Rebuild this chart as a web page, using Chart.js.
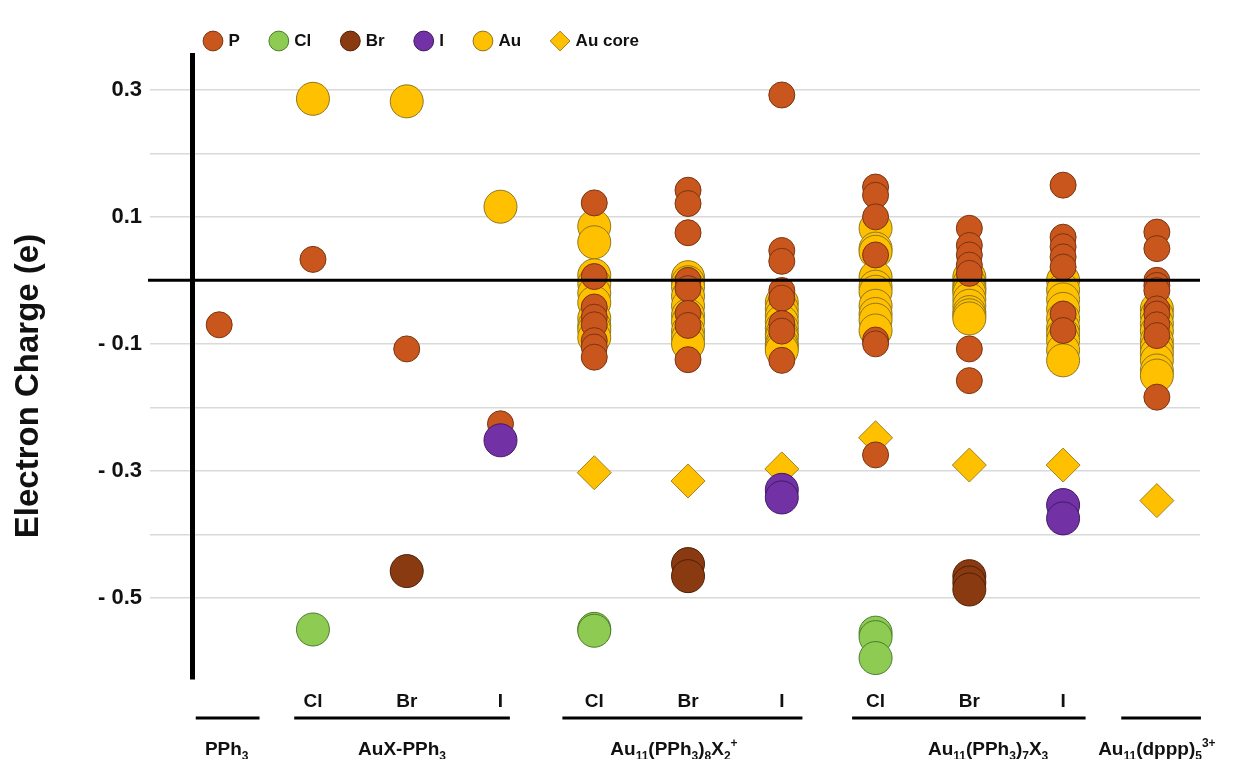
<!DOCTYPE html>
<html>
<head>
<meta charset="utf-8">
<title>Electron charge by element</title>
<script src="https://cdn.jsdelivr.net/npm/chart.js@4.4.1/dist/chart.umd.min.js"></script>
<style>
  html, body { margin: 0; padding: 0; background: #ffffff; }
  #wrap { width: 1249px; height: 759px; position: relative; }
</style>
</head>
<body>
<div id="wrap"><canvas id="chart"></canvas></div>
<script>
// x slots: 0 = PPh3, 1-3 = AuX-PPh3, 4-6 = Au11(PPh3)8X2+, 7-9 = Au11(PPh3)7X3, 10 = Au11(dppp)5 3+
const xTickLabels = ['', 'Cl', 'Br', 'I', 'Cl', 'Br', 'I', 'Cl', 'Br', 'I', ''];
const yTickValues = [0.3, 0.2, 0.1, 0, -0.1, -0.2, -0.3, -0.4, -0.5];
const yTickLabels = ['0.3', '', '0.1', '', '- 0.1', '', '- 0.3', '', '- 0.5'];
const groupNames = ['PPh_{3}', 'AuX-PPh_{3}', 'Au_{11}(PPh_{3})_{8}X_{2}^{+}', 'Au_{11}(PPh_{3})_{7}X_{3}', 'Au_{11}(dppp)_{5}^{3+}'];
const seriesNames = ['P', 'Cl', 'Br', 'I', 'Au', 'Au core'];
const yTitle = 'Electron Charge (e)';

// atomic charges (e), one list per x slot
const pCharges = [
  [-0.070],
  [0.033],
  [-0.108],
  [-0.226],
  [0.122, 0.006, -0.042, -0.058, -0.070, -0.095, -0.105, -0.121],
  [0.142, 0.121, 0.075, 0.000, -0.013, -0.052, -0.071, -0.125],
  [0.292, 0.047, 0.030, -0.016, -0.028, -0.068, -0.080, -0.126],
  [0.147, 0.134, 0.100, 0.040, -0.094, -0.100, -0.275],
  [0.082, 0.055, 0.040, 0.024, 0.011, -0.108, -0.158],
  [0.150, 0.068, 0.053, 0.037, 0.021, -0.053, -0.079],
  [0.076, 0.050, 0.000, -0.008, -0.016, -0.045, -0.053, -0.070, -0.087, -0.184]
];
const clCharges = [[], [-0.550], [], [], [-0.549, -0.552], [], [], [-0.555, -0.562, -0.595], [], [], []];
const brCharges = [[], [], [-0.458], [], [], [-0.447, -0.466], [], [], [-0.466, -0.476, -0.487], [], []];
const iCharges  = [[], [], [], [-0.252], [], [], [-0.330, -0.342], [], [], [-0.354, -0.375], []];
const auCharges = [
  [],
  [0.286],
  [0.282],
  [0.116],
  [0.085, 0.060, 0.008, -0.005, -0.020, -0.035, -0.060, -0.072, -0.078, -0.090],
  [0.005, -0.003, -0.010, -0.025, -0.040, -0.055, -0.065, -0.080, -0.090, -0.100],
  [-0.035, -0.045, -0.055, -0.065, -0.075, -0.085, -0.090, -0.100, -0.105, -0.110],
  [0.082, 0.050, 0.045, 0.005, -0.010, -0.018, -0.040, -0.053, -0.062, -0.079],
  [0.005, -0.005, -0.012, -0.015, -0.020, -0.030, -0.040, -0.050, -0.055, -0.060],
  [0.000, -0.015, -0.030, -0.045, -0.060, -0.075, -0.085, -0.095, -0.110, -0.126],
  [-0.045, -0.055, -0.068, -0.080, -0.095, -0.105, -0.115, -0.126, -0.142, -0.150]
];
const auCoreCharges = [[], [], [], [], [-0.303], [-0.316], [-0.297], [-0.248], [-0.291], [-0.291], [-0.347]];

// layout of the compound brackets under the axis, in x-axis units
const groupSpans = [[-0.25, 0.43], [0.80, 3.10], [3.66, 6.22], [6.75, 9.24], [9.62, 10.47]];
const groupLabelAt = [0.08, 1.95, 4.85, 8.20, 10.00];

const FAMILY = '"Liberation Sans", Arial, Helvetica, sans-serif';
const INK = '#111111';
const LEGEND_PAD = 32;

function toPoints(perSlot) {
  return perSlot.flatMap((vals, slot) => vals.map(v => ({ x: slot, y: v })));
}

function series(idx, data, fill, stroke, radius, order, style) {
  return {
    label: seriesNames[idx],
    data: toPoints(data),
    backgroundColor: fill,
    borderColor: stroke,
    borderWidth: 1,
    pointRadius: radius,
    pointHoverRadius: radius,
    pointStyle: style || 'circle',
    order: order
  };
}

// text with _{sub} and ^{sup} runs, centred on cx
function parseRich(s) {
  const out = [];
  let buf = '', i = 0;
  while (i < s.length) {
    const c = s[i];
    if ((c === '_' || c === '^') && s[i + 1] === '{') {
      if (buf) { out.push({ t: buf, k: 0 }); buf = ''; }
      const end = s.indexOf('}', i);
      out.push({ t: s.slice(i + 2, end), k: c === '_' ? 1 : -1 });
      i = end + 1;
    } else { buf += c; i++; }
  }
  if (buf) out.push({ t: buf, k: 0 });
  return out;
}
function drawRich(ctx, s, cx, y, mainSize, subSize) {
  const parts = parseRich(s);
  const fontFor = k => 'bold ' + (k ? subSize : mainSize) + 'px ' + FAMILY;
  let w = 0;
  parts.forEach(p => { ctx.font = fontFor(p.k); p.w = ctx.measureText(p.t).width; w += p.w; });
  let x = cx - w / 2;
  ctx.textAlign = 'left';
  ctx.textBaseline = 'alphabetic';
  parts.forEach(p => {
    ctx.font = fontFor(p.k);
    const dy = p.k === 1 ? 5 : (p.k === -1 ? -8 : 0);
    ctx.fillText(p.t, x, y + dy);
    x += p.w;
  });
}

const decorations = {
  id: 'decorations',
  afterLayout(chart) {
    // legend row sits above the plot, starting just right of the axis
    const lg = chart.legend;
    if (lg) { lg.left = 206 - LEGEND_PAD; lg.top = 41 - LEGEND_PAD - 8.5; }
  },
  afterDatasetsDraw(chart) {
    const { ctx, chartArea, scales } = chart;
    const y0 = scales.y.getPixelForValue(0);
    ctx.save();
    ctx.strokeStyle = '#000';
    ctx.lineWidth = 3;
    ctx.beginPath();
    ctx.moveTo(chartArea.left - 44, y0);
    ctx.lineTo(chartArea.right, y0);
    ctx.stroke();
    ctx.restore();
  },
  afterDraw(chart) {
    const { ctx, scales } = chart;
    const xs = scales.x;
    ctx.save();
    ctx.strokeStyle = '#000';
    ctx.fillStyle = INK;
    ctx.lineWidth = 3;
    groupNames.forEach((name, g) => {
      const [a, b] = groupSpans[g];
      ctx.beginPath();
      ctx.moveTo(xs.getPixelForValue(a), 718);
      ctx.lineTo(xs.getPixelForValue(b), 718);
      ctx.stroke();
      drawRich(ctx, name, xs.getPixelForValue(groupLabelAt[g]), 755, 19, 12);
    });
    // rotated y-axis title
    ctx.translate(29, 386);
    ctx.rotate(-Math.PI / 2);
    ctx.font = 'bold 33px ' + FAMILY;
    ctx.textAlign = 'center';
    ctx.textBaseline = 'middle';
    ctx.fillText(yTitle, 0, 0);
    ctx.restore();
  }
};

Chart.defaults.font.family = FAMILY;
Chart.defaults.color = INK;

new Chart(document.getElementById('chart'), {
  type: 'scatter',
  data: {
    datasets: [
      series(0, pCharges,      '#C8561D', '#7A3511', 13,   4),
      series(1, clCharges,     '#8DCB52', '#4C7A2B', 16.5, 3),
      series(2, brCharges,     '#8A3A10', '#4E2007', 16.5, 2),
      series(3, iCharges,      '#7232A6', '#3F1A62', 16.5, 1),
      series(4, auCharges,     '#FFC000', '#8C7620', 16.5, 5),
      series(5, auCoreCharges, '#FFC000', '#A08222', 17,   6, 'rectRot')
    ]
  },
  options: {
    responsive: true,
    maintainAspectRatio: false,
    animation: false,
    events: [],
    layout: { padding: { top: 5, right: 49, bottom: 0, left: 0 } },
    plugins: {
      tooltip: { enabled: false },
      legend: {
        position: 'top',
        align: 'start',
        maxHeight: 50,
        labels: {
          usePointStyle: true,
          boxWidth: 14,
          boxHeight: 14,
          padding: LEGEND_PAD,
          color: INK,
          font: { size: 17, weight: 'bold' },
          sort: (a, b) => a.datasetIndex - b.datasetIndex
        }
      }
    },
    scales: {
      x: {
        type: 'linear',
        min: -0.29,
        max: 10.46,
        afterFit: s => { s.height = 80; },
        afterBuildTicks: s => { s.ticks = xTickLabels.map((_, i) => ({ value: i })); },
        grid: { display: false },
        border: { display: false },
        ticks: {
          autoSkip: false,
          maxRotation: 0,
          padding: 3,
          color: INK,
          font: { size: 19, weight: 'bold' },
          callback: (v, i) => xTickLabels[i]
        }
      },
      y: {
        min: -0.628,
        max: 0.355,
        afterFit: s => { s.width = 192; },
        afterBuildTicks: s => { s.ticks = yTickValues.map(v => ({ value: v })); },
        grid: {
          color: ctx => (ctx.tick && ctx.tick.value === 0 ? 'rgba(0,0,0,0)' : '#d9d9d9'),
          lineWidth: 1.5,
          drawTicks: true,
          tickLength: 42
        },
        border: { display: true, color: '#000', width: 5 },
        ticks: {
          padding: 8,
          color: INK,
          font: { size: 22, weight: 'bold' },
          callback: (v, i) => yTickLabels[i]
        },
        title: { display: false }
      }
    }
  },
  plugins: [decorations]
});
</script>
</body>
</html>
